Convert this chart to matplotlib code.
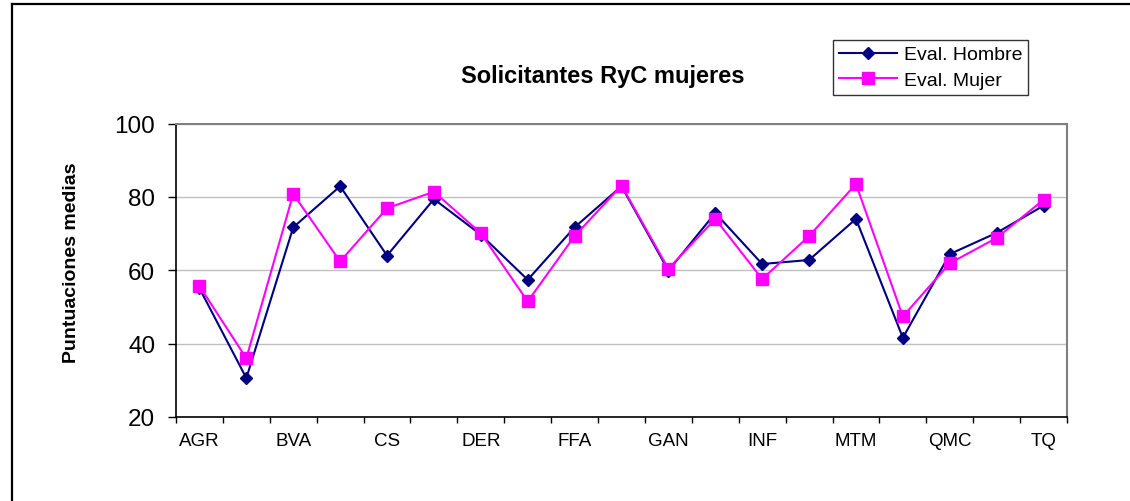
import matplotlib
matplotlib.use("Agg")
import matplotlib.pyplot as plt
import numpy as np

plt.rcParams["font.family"] = ["Liberation Sans", "DejaVu Sans"]

# Areas (only every second one is labelled on the axis)
areas = ["AGR", "", "BVA", "", "CS", "", "DER", "", "FFA", "",
         "GAN", "", "INF", "", "MTM", "", "QMC", "", "TQ"]
eval_hombre = [55.1, 30.6, 71.7, 82.9, 64.0, 79.4, 69.7, 57.4, 71.7, 82.9,
               59.9, 75.6, 61.7, 62.8, 74.0, 41.6, 64.4, 70.2, 77.6]
eval_mujer = [55.7, 36.0, 80.8, 62.4, 76.9, 81.4, 70.1, 51.5, 69.3, 83.1,
              60.4, 74.0, 57.6, 69.3, 83.5, 47.4, 61.9, 68.8, 79.2]
yticks = [20, 40, 60, 80, 100]

W, H = 1130, 502
fig = plt.figure(figsize=(W / 100, H / 100), dpi=100)
ax = fig.add_axes([176 / W, 1 - 418 / H, (1067 - 176) / W, (418 - 124.5) / H])

x = np.arange(len(areas))
ax.plot(x, eval_hombre, color="#000080", lw=1.5, marker="D", ms=6.5,
        label="Eval. Hombre", zorder=3)
ax.plot(x, eval_mujer, color="#FF00FF", lw=1.5, marker="s", ms=8,
        label="Eval. Mujer", zorder=4)

ax.set_xlim(-0.5, len(areas) - 0.5)
ax.set_ylim(20, 100)
ax.set_yticks(yticks)
ax.tick_params(axis="y", labelsize=17.5, length=6, width=1, pad=9, color="black")
ax.grid(axis="y", color="#c0c0c0", lw=1)
ax.set_axisbelow(True)

# category boundaries get tick marks, labels sit at the centres
ax.set_xticks(np.arange(len(areas) + 1) - 0.5)
ax.set_xticklabels([])
ax.tick_params(axis="x", which="major", length=4, width=1, direction="out")
ax.set_xticks(x, minor=True)
ax.set_xticklabels(areas, minor=True, fontsize=13.5)
ax.tick_params(axis="x", which="minor", length=0, pad=11)

for side in ("left", "bottom"):
    ax.spines[side].set_color("black")
    ax.spines[side].set_linewidth(1.2)
for side in ("top", "right"):
    ax.spines[side].set_color("#808080")
    ax.spines[side].set_linewidth(1.5)

fig.text(603 / W, 1 - 77 / H, "Solicitantes RyC mujeres", fontsize=17,
         fontweight="bold", ha="center", va="center")
fig.text(72 / W, 1 - 263 / H, "Puntuaciones medias", fontsize=14,
         fontweight="bold", rotation=90, ha="center", va="center")

leg = fig.legend(loc="upper left", bbox_to_anchor=(833 / W, 1 - 41 / H),
                 bbox_transform=fig.transFigure, borderaxespad=0,
                 fontsize=14, frameon=True, fancybox=False, handlelength=3.0,
                 labelspacing=0.4, borderpad=0.3, handletextpad=0.35)
leg.get_frame().set_edgecolor("black")
leg.get_frame().set_linewidth(1.0)

# outer chart frame (left and top edges)
fig.add_artist(plt.Line2D([11.5 / W, 11.5 / W], [0, 1 - 5 / H], color="black",
                          lw=1.6, transform=fig.transFigure))
fig.add_artist(plt.Line2D([11.5 / W, 1], [1 - 5 / H, 1 - 5 / H], color="black",
                          lw=1.6, transform=fig.transFigure))

fig.savefig("out.png", dpi=100)
